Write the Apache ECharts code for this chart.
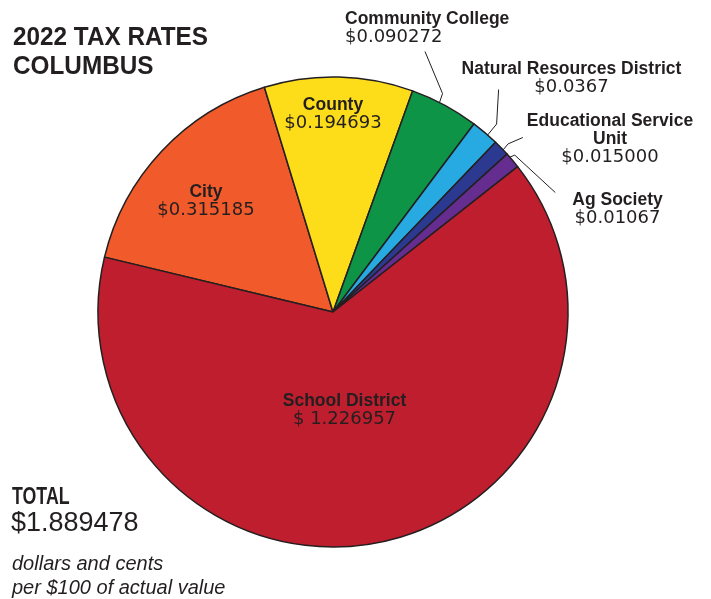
<!DOCTYPE html>
<html>
<head>
<meta charset="utf-8">
<script src="https://cdn.jsdelivr.net/npm/echarts@6/dist/echarts.min.js"></script>
<style>html,body{margin:0;padding:0;background:#fff}#c{width:711px;height:599px}</style>
</head>
<body>
<div id="c"></div>
<script>
var categories = ['City', 'County', 'Community College', 'Natural Resources District', 'Educational Service Unit', 'Ag Society', 'School District'];
var values = [0.315185, 0.194693, 0.090272, 0.0367, 0.015000, 0.01067, 1.226957];
var valueLabels = ['$0.315185', '$0.194693', '$0.090272', '$0.0367', '$0.015000', '$0.01067', '$ 1.226957'];
var colors = ['#F15A2B', '#FDDC1A', '#0E9447', '#27AAE1', '#2B3990', '#662D91', '#BE1E2D'];
var totalLabel = '$1.889478';

var inside = [true, true, false, false, false, false, true];
var labelPos = [
  {x: 206, y: 201, align: 'center'},
  {x: 333, y: 114, align: 'center'},
  {x: 345, y: 28.5, align: 'left'},
  {x: 571.5, y: 78.5, align: 'center'},
  {x: 610, y: 139.5, align: 'center'},
  {x: 617.5, y: 209.5, align: 'center'},
  {x: 344.5, y: 410, align: 'center'}
];
// leader-line styling: where on the slice arc it starts (fraction of the slice angle),
// elbow offset from the start, and end offset relative to the label box
var guide = [
  null, null,
  {frac: 0.42, elbow: [3, -9], end: function (r) { return [r.x + 80, r.y + r.height + 5]; }},
  {frac: 0.62, elbow: [9, -11], end: function (r) { return [r.x + 37, r.y + r.height - 7]; }},
  {frac: 0.65, elbow: [5, -6], end: function (r) { return [r.x - 4, r.y + r.height / 2 - 2]; }},
  {frac: 0.25, elbow: [5, -2], end: function (r) { return [r.x - 17, r.y + 1]; }},
  null
];
var INK = '#231F20';

var data = categories.map(function (c, i) {
  return {
    name: c,
    value: values[i],
    itemStyle: {color: colors[i]},
    label: {position: inside[i] ? 'inside' : 'outside'},
    labelLine: {show: !inside[i]}
  };
});

var chart = echarts.init(document.getElementById('c'), null, {renderer: 'canvas'});
chart.setOption({
  animation: false,
  graphic: [
    {type: 'text', x: 13, y: 22.75, scaleX: 0.95, style: {text: '2022 TAX RATES\nCOLUMBUS', fill: INK, font: 'bold 25.6px "Liberation Sans"', lineHeight: 29.5, textVerticalAlign: 'top'}},
    {type: 'text', x: 12, y: 484.6, scaleX: 0.72, style: {text: 'TOTAL', fill: INK, font: 'bold 24.7px "Liberation Sans"', lineHeight: 24.7, textVerticalAlign: 'top'}},
    {type: 'text', left: 11, top: 510, style: {text: totalLabel, fill: INK, font: '27px "Liberation Sans"'}},
    {type: 'text', left: 12, top: 552, style: {text: 'dollars and cents\nper $100 of actual value', fill: INK, font: 'italic 20px "Liberation Sans"', lineHeight: 24}}
  ],
  series: [{
    type: 'pie',
    center: [333, 312],
    radius: 235,
    startAngle: 166.5,
    clockwise: true,
    minAngle: 4,
    avoidLabelOverlap: false,
    silent: true,
    itemStyle: {borderColor: INK, borderWidth: 1.5},
    label: {
      show: true,
      formatter: function (p) {
        var n = p.name.replace('Service Unit', 'Service\nUnit');
        return '{n|' + n + '}\n{v|' + valueLabels[p.dataIndex] + '}';
      },
      rich: {
        n: {fontFamily: 'Liberation Sans', fontWeight: 'bold', fontSize: 17.5, color: INK, lineHeight: 18},
        v: {fontFamily: 'DejaVu Sans', fontSize: 18, color: INK, lineHeight: 18}
      },
      color: INK
    },
    labelLine: {show: true, length: 10, length2: 20, lineStyle: {color: INK, width: 1}},
    labelLayout: function (p) {
      var q = labelPos[p.dataIndex];
      var out = {x: q.x, y: q.y, align: q.align, verticalAlign: 'middle'};
      var g = guide[p.dataIndex];
      if (g) {
        try {
          var lay = chart.getModel().getSeriesByIndex(0).getData().getItemLayout(p.dataIndex);
          var a = lay.startAngle + g.frac * (lay.endAngle - lay.startAngle);
          var s = [lay.cx + lay.r * Math.cos(a), lay.cy + lay.r * Math.sin(a)];
          var w = p.labelRect.width, h = p.labelRect.height;
          var rx = q.align === 'left' ? q.x : q.x - w / 2;
          var r = {x: rx, y: q.y - h / 2, width: w, height: h};
          out.labelLinePoints = [s, [s[0] + g.elbow[0], s[1] + g.elbow[1]], g.end(r)];
        } catch (e) {}
      }
      return out;
    },
    data: data
  }]
});
</script>
</body>
</html>
